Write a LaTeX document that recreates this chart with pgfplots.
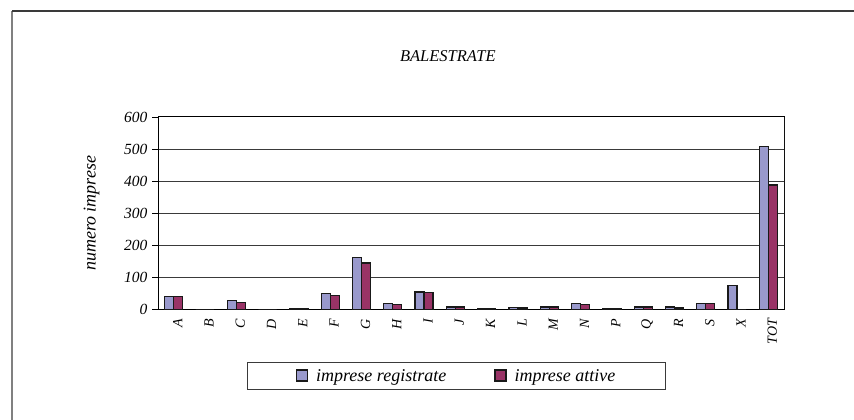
\documentclass[border=0pt]{standalone}
\usepackage{fontspec}
\setmainfont{Liberation Serif}
\usepackage{pgfplots}
\pgfplotsset{compat=1.18}
\definecolor{reg}{HTML}{9999CC}
\definecolor{att}{HTML}{993366}
\definecolor{gridc}{HTML}{3A3A3A}
\begin{document}
\begin{tikzpicture}[x=1pt,y=1pt]
\path[use as bounding box] (0,0) rectangle (854,420);
\draw[gray, line width=1.3pt] (12,0) -- (12,409);
\draw[gridc, line width=1.3pt] (12,409) -- (854,409);
\begin{axis}[
  at={(158pt,110.5pt)}, anchor=south west,
  scale only axis, width=626pt, height=192.5pt,
  xmin=-0.5, xmax=19.5, ymin=0, ymax=600,
  ybar=0pt, bar width=9pt,
  xtick={0,...,19},
  xticklabels={A,B,C,D,E,F,G,H,I,J,K,L,M,N,P,Q,R,S,X,TOT},
  minor xtick={-0.5,0.5,...,19.5},
  ytick={0,100,...,600},
  tick pos=left,
  tick align=outside,
  major tick length=6pt, minor tick length=6pt,
  xtick style={draw=none},
  minor x tick style={black, line width=0.9pt},
  ytick style={black, line width=0.9pt},
  ymajorgrids, grid style={gridc, line width=1pt},
  axis line style={black, line width=1pt},
  /pgf/number format/assume math mode=true,
  yticklabel style={font=\fontsize{15.5}{17}\selectfont\itshape, xshift=-1pt},
  xticklabel style={font=\fontsize{14}{16}\selectfont\itshape, rotate=90, anchor=east, yshift=-4pt},
  ylabel={numero imprese},
  ylabel style={font=\fontsize{18}{20}\selectfont\itshape, at={(axis description cs:-0.106,0.5)}, anchor=center},
  title={BALESTRATE},
  title style={font=\fontsize{16.5}{18}\selectfont\itshape, at={(axis description cs:0.463,1.286)}, anchor=center},
  legend columns=2,
  legend style={at={(axis description cs:0.477,-0.345)}, anchor=center,
    draw=gridc, line width=1pt, inner xsep=48pt, inner ysep=5pt,
    font=\fontsize{18}{20}\selectfont\itshape,
    /tikz/every odd column/.append style={column sep=6pt},
    /tikz/every even column/.append style={column sep=46pt}},
  legend image code/.code={\draw[#1, line width=1.3pt] (0pt,-5pt) rectangle (11pt,6pt);},
]
\addplot[fill=reg, draw=black!90, line width=1.3pt] coordinates {
(0,40) (1,0) (2,27) (3,0) (4,3) (5,50) (6,162) (7,19) (8,55) (9,8)
(10,3) (11,7) (12,8) (13,19) (14,2) (15,8) (16,8) (17,19) (18,75) (19,507)};
\addplot[fill=att, draw=black!90, line width=1.3pt] coordinates {
(0,40) (1,0) (2,21) (3,0) (4,2) (5,44) (6,145) (7,16) (8,52) (9,8)
(10,2) (11,5) (12,8) (13,16) (14,2) (15,8) (16,5) (17,19) (18,0) (19,388)};
\legend{imprese registrate, imprese attive}
\draw[gray, line width=1pt] (rel axis cs:1,0) -- (rel axis cs:1,1);
\end{axis}
\end{tikzpicture}
\end{document}
